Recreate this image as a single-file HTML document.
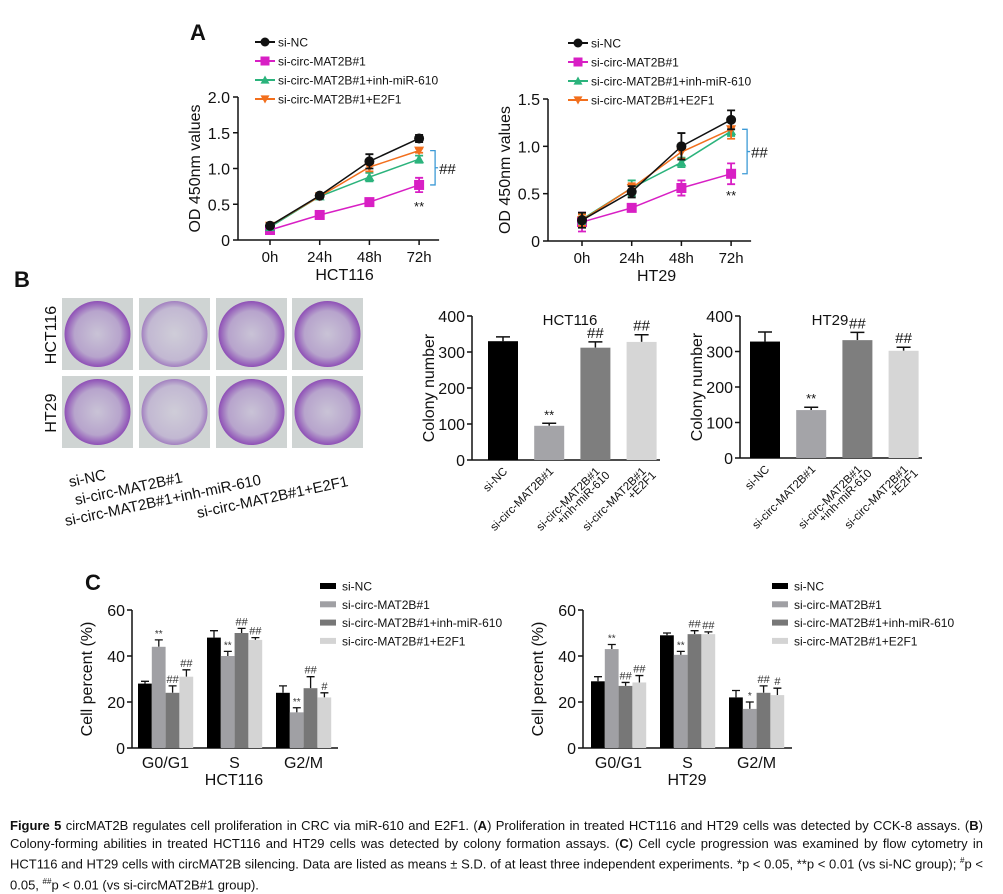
<!DOCTYPE html>
<html><head><meta charset="utf-8"><style>
body{margin:0;background:#fff;width:1003px;height:890px;overflow:hidden;font-family:"Liberation Sans",sans-serif}
svg text{font-family:"Liberation Sans",sans-serif}
#cap{position:absolute;left:10px;top:817px;width:973px;font-size:13px;line-height:17.5px;text-align:justify;color:#111}
</style></head><body>
<svg id="fig" width="1003" height="890" viewBox="0 0 1003 890" style="position:absolute;left:0;top:0">
<defs>
<radialGradient id="plateG" cx="50%" cy="50%" r="50%">
<stop offset="0" stop-color="#c9c3d6"/><stop offset="0.7" stop-color="#b7a4cc"/><stop offset="1" stop-color="#8e4fb6"/></radialGradient>
<radialGradient id="plateL" cx="50%" cy="50%" r="50%">
<stop offset="0" stop-color="#cfcdd8"/><stop offset="0.8" stop-color="#c2b8d2"/><stop offset="1" stop-color="#a27fc0"/></radialGradient>
</defs>
</svg>
<div id="cap"><b>Figure 5</b> circMAT2B regulates cell proliferation in CRC via miR-610 and E2F1. (<b>A</b>) Proliferation in treated HCT116 and HT29 cells was detected by CCK-8 assays. (<b>B</b>) Colony-forming abilities in treated HCT116 and HT29 cells was detected by colony formation assays. (<b>C</b>) Cell cycle progression was examined by flow cytometry in HCT116 and HT29 cells with circMAT2B silencing. Data are listed as means ± S.D. of at least three independent experiments. *p &lt; 0.05, **p &lt; 0.01 (vs si-NC group); <sup style="font-size:8px">#</sup>p &lt; 0.05, <sup style="font-size:8px">##</sup>p &lt; 0.01 (vs si-circMAT2B#1 group).</div>
<script>
// ---------- data ----------
const groups = ["si-NC","si-circ-MAT2B#1","si-circ-MAT2B#1+inh-miR-610","si-circ-MAT2B#1+E2F1"];
const timeLabels = ["0h","24h","48h","72h"];
const hctOD = [[0.20,0.62,1.10,1.42],[0.14,0.35,0.53,0.77],[0.18,0.61,0.88,1.13],[0.20,0.61,1.02,1.25]];
const hctODErr = [[0.03,0.03,0.10,0.05],[0.03,0.03,0.05,0.10],[0.02,0.02,0.06,0.05],[0.03,0.02,0.06,0.03]];
const htOD = [[0.22,0.52,1.00,1.28],[0.20,0.35,0.56,0.71],[0.23,0.56,0.83,1.16],[0.22,0.56,0.94,1.18]];
const htODErr = [[0.08,0.06,0.14,0.10],[0.10,0.04,0.08,0.11],[0.05,0.08,0.05,0.05],[0.06,0.05,0.07,0.10]];
const hctTicks = [0,0.5,1.0,1.5,2.0];
const hctTickLabels = ["0","0.5","1.0","1.5","2.0"];
const htTicks = [0,0.5,1.0,1.5];
const htTickLabels = ["0","0.5","1.0","1.5"];
const hctColony = [330,95,312,328];
const hctColonyErr = [12,7,16,20];
const htColony = [328,135,332,302];
const htColonyErr = [27,8,22,10];
const colonyTicks = [0,100,200,300,400];
const colonyMarks = ["","**","##","##"];
const phases = ["G0/G1","S","G2/M"];
const hctCycle = [[28,48,24],[44,40,15.5],[24,50,26],[31,47,22]];
const hctCycleErr = [[1,3,3],[3,2,2],[3,2,5],[3,1,2]];
const hctCycleMarks = [["","",""],["**","**","**"],["##","##","##"],["##","##","#"]];
const htCycle = [[29,49,22],[43,40.5,17],[27,49.5,24],[28.5,49.5,23]];
const htCycleErr = [[2,1,3],[2,1.5,3],[1.5,1.5,3],[3,1,3]];
const htCycleMarks = [["","",""],["**","**","*"],["##","##","##"],["##","##","#"]];
const cycleTicks = [0,20,40,60];
const lineColors = ["#111","#d81fc4","#2bb37c","#f26f1d"];
const barColors = ["#000","#a4a4a8","#7e7e7e","#d6d6d6"];
const cycleColors = ["#000","#a0a0a4","#777","#d4d4d4"];

const S = document.getElementById('fig');
const NS = "http://www.w3.org/2000/svg";
function mk(tag, a){const e=document.createElementNS(NS,tag);for(const k in a)e.setAttribute(k,a[k]);S.appendChild(e);return e;}
function tx(x,y,s,size,extra){const e=mk('text',Object.assign({x:x,y:y,'font-size':size,fill:'#111'},extra||{}));e.textContent=s;return e;}

// panel letters
let L;
L=tx(190,40,"A",22,{'font-weight':'bold'});


L=tx(14,287,"B",22,{'font-weight':'bold'});


L=tx(85,590,"C",22,{'font-weight':'bold'});



// ---------- line charts ----------
function lineChart(cfg){
  const y=v=>cfg.y0-(v/cfg.ymax)*(cfg.y0-cfg.ytop);
  const x=i=>cfg.x0+i*cfg.dx;
  let e;
  e=mk('line',{x1:cfg.ax,y1:cfg.ytop,x2:cfg.ax,y2:cfg.y0,stroke:'#111','stroke-width':1.5});
  
  
  e=mk('line',{x1:cfg.ax,y1:cfg.y0,x2:x(3)+20,y2:cfg.y0,stroke:'#111','stroke-width':1.5});
  
  
  cfg.ticks.forEach((t,i)=>{
    e=mk('line',{x1:cfg.ax-5,y1:y(t),x2:cfg.ax,y2:y(t),stroke:'#111','stroke-width':1.5});
    
    
    e=tx(cfg.ax-8,y(t)+6,cfg.tickLabels[i],16,{'text-anchor':'end'});
    
    
  });
  timeLabels.forEach((t,i)=>{
    e=mk('line',{x1:x(i),y1:cfg.y0,x2:x(i),y2:cfg.y0+5,stroke:'#111','stroke-width':1.5});
    
    
    e=tx(x(i),cfg.y0+22,t,15,{'text-anchor':'middle'});
    
    
  });
  e=tx((x(0)+x(3))/2,cfg.y0+40,cfg.title,16,{'text-anchor':'middle'});
  
  
  e=tx(0,0,"OD 450nm values",16,{'text-anchor':'middle',transform:`translate(${cfg.ax-38},${(cfg.y0+cfg.ytop)/2}) rotate(-90)`});
  
  
  const order=[1,2,3,0];
  order.forEach(s=>{
    const c=lineColors[s];
    const pts=cfg.data[s].map((v,i)=>x(i)+','+y(v)).join(' ');
    e=mk('polyline',{points:pts,fill:'none',stroke:c,'stroke-width':1.5});
    
    
    cfg.data[s].forEach((v,i)=>{
      const er=cfg.err[s][i];
      e=mk('path',{d:`M${x(i)} ${y(v-er)}V${y(v+er)}M${x(i)-4} ${y(v+er)}H${x(i)+4}M${x(i)-4} ${y(v-er)}H${x(i)+4}`,stroke:c,'stroke-width':1.8,fill:'none'});
      
      
      e=marker(s,x(i),y(v),5);
      
      
    });
  });
  // legend
  groups.forEach((g,s)=>{
    const ly=cfg.legY+s*19;
    e=mk('line',{x1:cfg.legX-10,y1:ly,x2:cfg.legX+10,y2:ly,stroke:lineColors[s],'stroke-width':2});
    
    
    e=marker(s,cfg.legX,ly,4.5);
    
    
    e=tx(cfg.legX+13,ly+4.5,g,12);
    
    
  });
  // bracket
  const bx=x(3)+11, t=y(cfg.data[3][3]), b=y(cfg.data[1][3]);
  e=mk('path',{d:`M${bx} ${t}H${bx+5}V${b}H${bx}M${bx+5} ${(t+b)/2}H${bx+8}`,stroke:'#3d9ad6','stroke-width':1.3,fill:'none'});
  
  
  e=tx(bx+9,(t+b)/2+6,"##",15);
  
  
  e=tx(x(3),b+cfg.starOff,"**",13,{'text-anchor':'middle'});
  
  
}
function marker(s,cx,cy,r){
  const c=lineColors[s];
  if(s===0) return mk('circle',{cx:cx,cy:cy,r:r,fill:c});
  if(s===1) return mk('rect',{x:cx-r,y:cy-r,width:2*r,height:2*r,fill:c});
  if(s===2) return mk('polygon',{points:`${cx},${cy-r} ${cx-r},${cy+r*0.8} ${cx+r},${cy+r*0.8}`,fill:c});
  return mk('polygon',{points:`${cx},${cy+r} ${cx-r},${cy-r*0.8} ${cx+r},${cy-r*0.8}`,fill:c});
}
lineChart({id:'hct116-od',ax:238,y0:240,ytop:97,ymax:2.0,x0:270,dx:49.7,ticks:hctTicks,tickLabels:hctTickLabels,data:hctOD,err:hctODErr,title:'HCT116',legX:265,legY:42,starOff:26});
lineChart({id:'ht29-od',ax:548,y0:241,ytop:99,ymax:1.5,x0:582,dx:49.7,ticks:htTicks,tickLabels:htTickLabels,data:htOD,err:htODErr,title:'HT29',legX:578,legY:43,starOff:26});

// ---------- plates ----------
const plateX=[62,139,216,292], plateY=[298,376];
const plateRowLabels=["HCT116","HT29"];
plateY.forEach((py,r)=>{
  let e=tx(0,0,plateRowLabels[r],16,{'text-anchor':'middle',transform:`translate(56,${py+37}) rotate(-90)`});
  
  
  plateX.forEach((px,c)=>{
    e=mk('rect',{x:px,y:py,width:71,height:72,fill:'#cfd4d3'});
    
    
    e=mk('circle',{cx:px+35.5,cy:py+36,r:33,fill:(c===1?'url(#plateL)':'url(#plateG)')});
    
    
  });
});
const plateLabels=[["si-NC",70,487],["si-circ-MAT2B#1",76,505],["si-circ-MAT2B#1+inh-miR-610",66,526],["si-circ-MAT2B#1+E2F1",198,518]];
plateLabels.forEach(p=>{
  let e=tx(0,0,p[0],15,{transform:`translate(${p[1]},${p[2]}) rotate(-12)`});
  
  
});

// ---------- colony bar charts ----------
function colonyChart(cfg){
  const y=v=>cfg.y0-(v/400)*(cfg.y0-cfg.ytop);
  let e;
  e=mk('line',{x1:cfg.ax,y1:cfg.ytop,x2:cfg.ax,y2:cfg.y0,stroke:'#111','stroke-width':1.5});
  
  
  e=mk('line',{x1:cfg.ax,y1:cfg.y0,x2:cfg.xend,y2:cfg.y0,stroke:'#111','stroke-width':1.5});
  
  
  colonyTicks.forEach(t=>{
    e=mk('line',{x1:cfg.ax-5,y1:y(t),x2:cfg.ax,y2:y(t),stroke:'#111','stroke-width':1.5});
    
    
    e=tx(cfg.ax-7,y(t)+6,String(t),16,{'text-anchor':'end'});
    
    
  });
  e=tx(0,0,"Colony number",16,{'text-anchor':'middle',transform:`translate(${cfg.ax-38},${(cfg.y0+cfg.ytop)/2}) rotate(-90)`});
  
  
  e=tx(cfg.titleX,cfg.ytop+9,cfg.title,15,{'text-anchor':'middle'});
  
  
  cfg.vals.forEach((v,i)=>{
    const bx=cfg.x0+i*46.2, er=cfg.err[i];
    e=mk('path',{d:`M${bx+15} ${y(v)}V${y(v+er)}M${bx+8} ${y(v+er)}H${bx+22}`,stroke:'#111','stroke-width':1.5,fill:'none'});
    
    
    e=mk('rect',{x:bx,y:y(v),width:30,height:cfg.y0-y(v),fill:barColors[i]});
    
    
    if(colonyMarks[i]){
      e=tx(bx+15,y(v+er)-4,colonyMarks[i],colonyMarks[i]==='**'?13:15,{'text-anchor':'middle'});
      
      
    }
  });
  const labs=[["si-NC"],["si-circ-MAT2B#1"],["si-circ-MAT2B#1","+inh-miR-610"],["si-circ-MAT2B#1","+E2F1"]];
  labs.forEach((l,i)=>{
    const bx=cfg.x0+i*46.2+20;
    l.forEach((s,k)=>{
      e=tx(0,0,s,11.5,{'text-anchor':'end',transform:`translate(${bx+k*10},${cfg.y0+12+k*4}) rotate(-45)`});
      
      
    });
  });
}
colonyChart({id:'hct116-colony',ax:472,y0:460,ytop:316,xend:660,x0:488,vals:hctColony,err:hctColonyErr,title:'HCT116',titleX:570});
colonyChart({id:'ht29-colony',ax:740,y0:458,ytop:316,xend:922,x0:750,vals:htColony,err:htColonyErr,title:'HT29',titleX:830});

// ---------- cell cycle charts ----------
function cycleChart(cfg){
  const y=v=>cfg.y0-(v/60)*(cfg.y0-cfg.ytop);
  let e;
  e=mk('line',{x1:cfg.ax,y1:cfg.ytop,x2:cfg.ax,y2:cfg.y0,stroke:'#111','stroke-width':1.5});
  
  
  e=mk('line',{x1:cfg.ax,y1:cfg.y0,x2:cfg.xend,y2:cfg.y0,stroke:'#111','stroke-width':1.5});
  
  
  cycleTicks.forEach(t=>{
    e=mk('line',{x1:cfg.ax-5,y1:y(t),x2:cfg.ax,y2:y(t),stroke:'#111','stroke-width':1.5});
    
    
    e=tx(cfg.ax-7,y(t)+6,String(t),16,{'text-anchor':'end'});
    
    
  });
  e=tx(0,0,"Cell percent (%)",16,{'text-anchor':'middle',transform:`translate(${cfg.ax-40},${(cfg.y0+cfg.ytop)/2}) rotate(-90)`});
  
  
  phases.forEach((p,g)=>{
    const gx=cfg.x0+g*69;
    cfg.vals.forEach((ser,s)=>{
      const v=ser[g], er=cfg.err[s][g], bx=gx+s*13.8;
      e=mk('path',{d:`M${bx+7} ${y(v)}V${y(v+er)}M${bx+3} ${y(v+er)}H${bx+11}`,stroke:'#111','stroke-width':1.3,fill:'none'});
      
      
      e=mk('rect',{x:bx,y:y(v),width:13.8,height:cfg.y0-y(v),fill:cycleColors[s]});
      
      
      const m=cfg.marks[s][g];
      if(m){
        e=tx(bx+7,y(v+er)-3,m,m.indexOf('*')>=0?10:11,{'text-anchor':'middle',fill:'#333'});
        
        
      }
    });
    e=tx(gx+27.5,cfg.y0+20,p,16,{'text-anchor':'middle'});
    
    
  });
  e=tx(cfg.x0+96,cfg.y0+37,cfg.title,16,{'text-anchor':'middle'});
  
  
  groups.forEach((gname,s)=>{
    const ly=cfg.legY+s*18.3;
    e=mk('rect',{x:cfg.legX,y:ly-3,width:16,height:6,fill:cycleColors[s]});
    
    
    e=tx(cfg.legX+22,ly+4.5,gname,12);
    
    
  });
}
cycleChart({id:'hct116-cycle',ax:132,y0:748,ytop:610,xend:338,x0:138,vals:hctCycle,err:hctCycleErr,marks:hctCycleMarks,title:'HCT116',legX:320,legY:586});
cycleChart({id:'ht29-cycle',ax:583,y0:748,ytop:610,xend:792,x0:591,vals:htCycle,err:htCycleErr,marks:htCycleMarks,title:'HT29',legX:772,legY:586});
</script>
</body></html>
